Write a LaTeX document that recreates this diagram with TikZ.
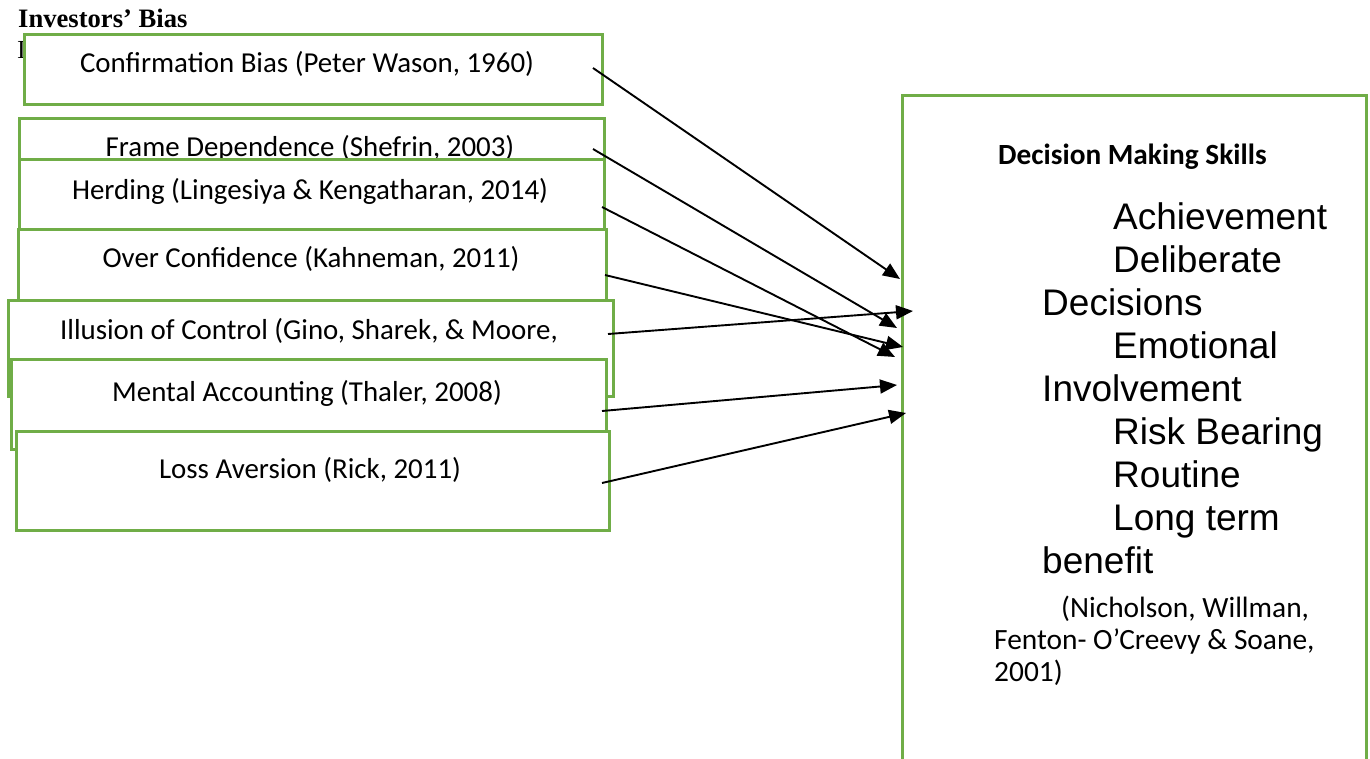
\documentclass[tikz,border=0pt]{standalone}
\usepackage{fontspec}
\setmainfont{Carlito}
\newfontfamily\arialf{Liberation Sans}
\newfontfamily\timesf{Liberation Serif}
\usetikzlibrary{arrows.meta}
\definecolor{boxgreen}{RGB}{112,173,71}
\begin{document}
\begin{tikzpicture}[x=1pt,y=-1pt,
  biasbox/.style={draw=boxgreen, line width=2.5pt, fill=white, inner sep=0pt, anchor=north west},
  biastext/.style={anchor=base, inner sep=0pt, font=\fontsize{28.9}{32}\selectfont},
  skilltext/.style={anchor=base west, inner sep=0pt, font=\arialf\fontsize{37}{43}\selectfont},
  citetext/.style={anchor=base west, inner sep=0pt, font=\fontsize{29.4}{32}\selectfont},
  conn/.style={draw=black, line width=1.9pt, -{Triangle[length=17pt,width=14pt]}}]
\useasboundingbox (0,0) rectangle (1370,758);
\fill[white] (0,0) rectangle (1370,758);
% title
\node[anchor=base west, inner sep=0pt, font=\timesf\bfseries\fontsize{26.6}{30}\selectfont] (title) at (18,27) {Investors’ Bias};
\node[anchor=base west, inner sep=0pt, font=\timesf\fontsize{26}{30}\selectfont] (stray) at (17,58) {I};
% bias boxes
\node[biasbox, minimum width=578pt, minimum height=70pt] (b1) at (23,33) {};
\node[biastext] (t1) at (307,72) {Confirmation Bias (Peter Wason, 1960)};
\node[biasbox, minimum width=585pt, minimum height=85pt] (b2) at (18,117) {};
\node[biastext] (t2) at (310,156) {Frame Dependence (Shefrin, 2003)};
\node[biasbox, minimum width=585pt, minimum height=70pt] (b3) at (18,158) {};
\node[biastext] (t3) at (310,199) {Herding (Lingesiya \& Kengatharan, 2014)};
\node[biasbox, minimum width=588pt, minimum height=80pt] (b4) at (17,228) {};
\node[biastext] (t4) at (311,267) {Over Confidence (Kahneman, 2011)};
\node[biasbox, minimum width=605pt, minimum height=96pt] (b5) at (7,299) {};
\node[biastext] (t5) at (309,339) {Illusion of Control (Gino, Sharek, \& Moore,};
\node[biasbox, minimum width=595pt, minimum height=90pt] (b6) at (10,358) {};
\node[biastext] (t6) at (307,401) {Mental Accounting (Thaler, 2008)};
\node[biasbox, minimum width=593pt, minimum height=99pt] (b7) at (15,430) {};
\node[biastext] (t7) at (310,478) {Loss Aversion (Rick, 2011)};
% decision making box
\node[biasbox, minimum width=464pt, minimum height=700pt] (rb) at (901,94) {};
\node[anchor=base west, inner sep=0pt, font=\bfseries\fontsize{29.3}{32}\selectfont] (dmh) at (998,164) {Decision Making Skills};
\node[skilltext] (d1) at (1113,229) {Achievement};
\node[skilltext] (d2) at (1113,272) {Deliberate};
\node[skilltext] (d3) at (1042,315) {Decisions};
\node[skilltext] (d4) at (1113,358) {Emotional};
\node[skilltext] (d5) at (1042,401) {Involvement};
\node[skilltext] (d6) at (1113,444) {Risk Bearing};
\node[skilltext] (d7) at (1113,487) {Routine};
\node[skilltext] (d8) at (1113,530) {Long term};
\node[skilltext] (d9) at (1042,573) {benefit};
\node[citetext] (c1) at (1061,617) {(Nicholson, Willman,};
\node[citetext] (c2) at (994,649) {Fenton- O’Creevy \& Soane,};
\node[citetext] (c3) at (994,681) {2001)};
% arrows
\coordinate (s1) at (593,68);  \coordinate (e1) at (900,279);
\coordinate (s2) at (593,149); \coordinate (e2) at (897,328);
\coordinate (s3) at (602,207); \coordinate (e3) at (895,357);
\coordinate (s4) at (605,275); \coordinate (e4) at (903,347);
\coordinate (s5) at (608,334); \coordinate (e5) at (913,311);
\coordinate (s6) at (602,411); \coordinate (e6) at (897,385);
\coordinate (s7) at (602,483); \coordinate (e7) at (906,413);
\draw[conn] (s1) -- (e1);
\draw[conn] (s2) -- (e2);
\draw[conn] (s3) -- (e3);
\draw[conn] (s4) -- (e4);
\draw[conn] (s5) -- (e5);
\draw[conn] (s6) -- (e6);
\draw[conn] (s7) -- (e7);
\end{tikzpicture}
\end{document}
